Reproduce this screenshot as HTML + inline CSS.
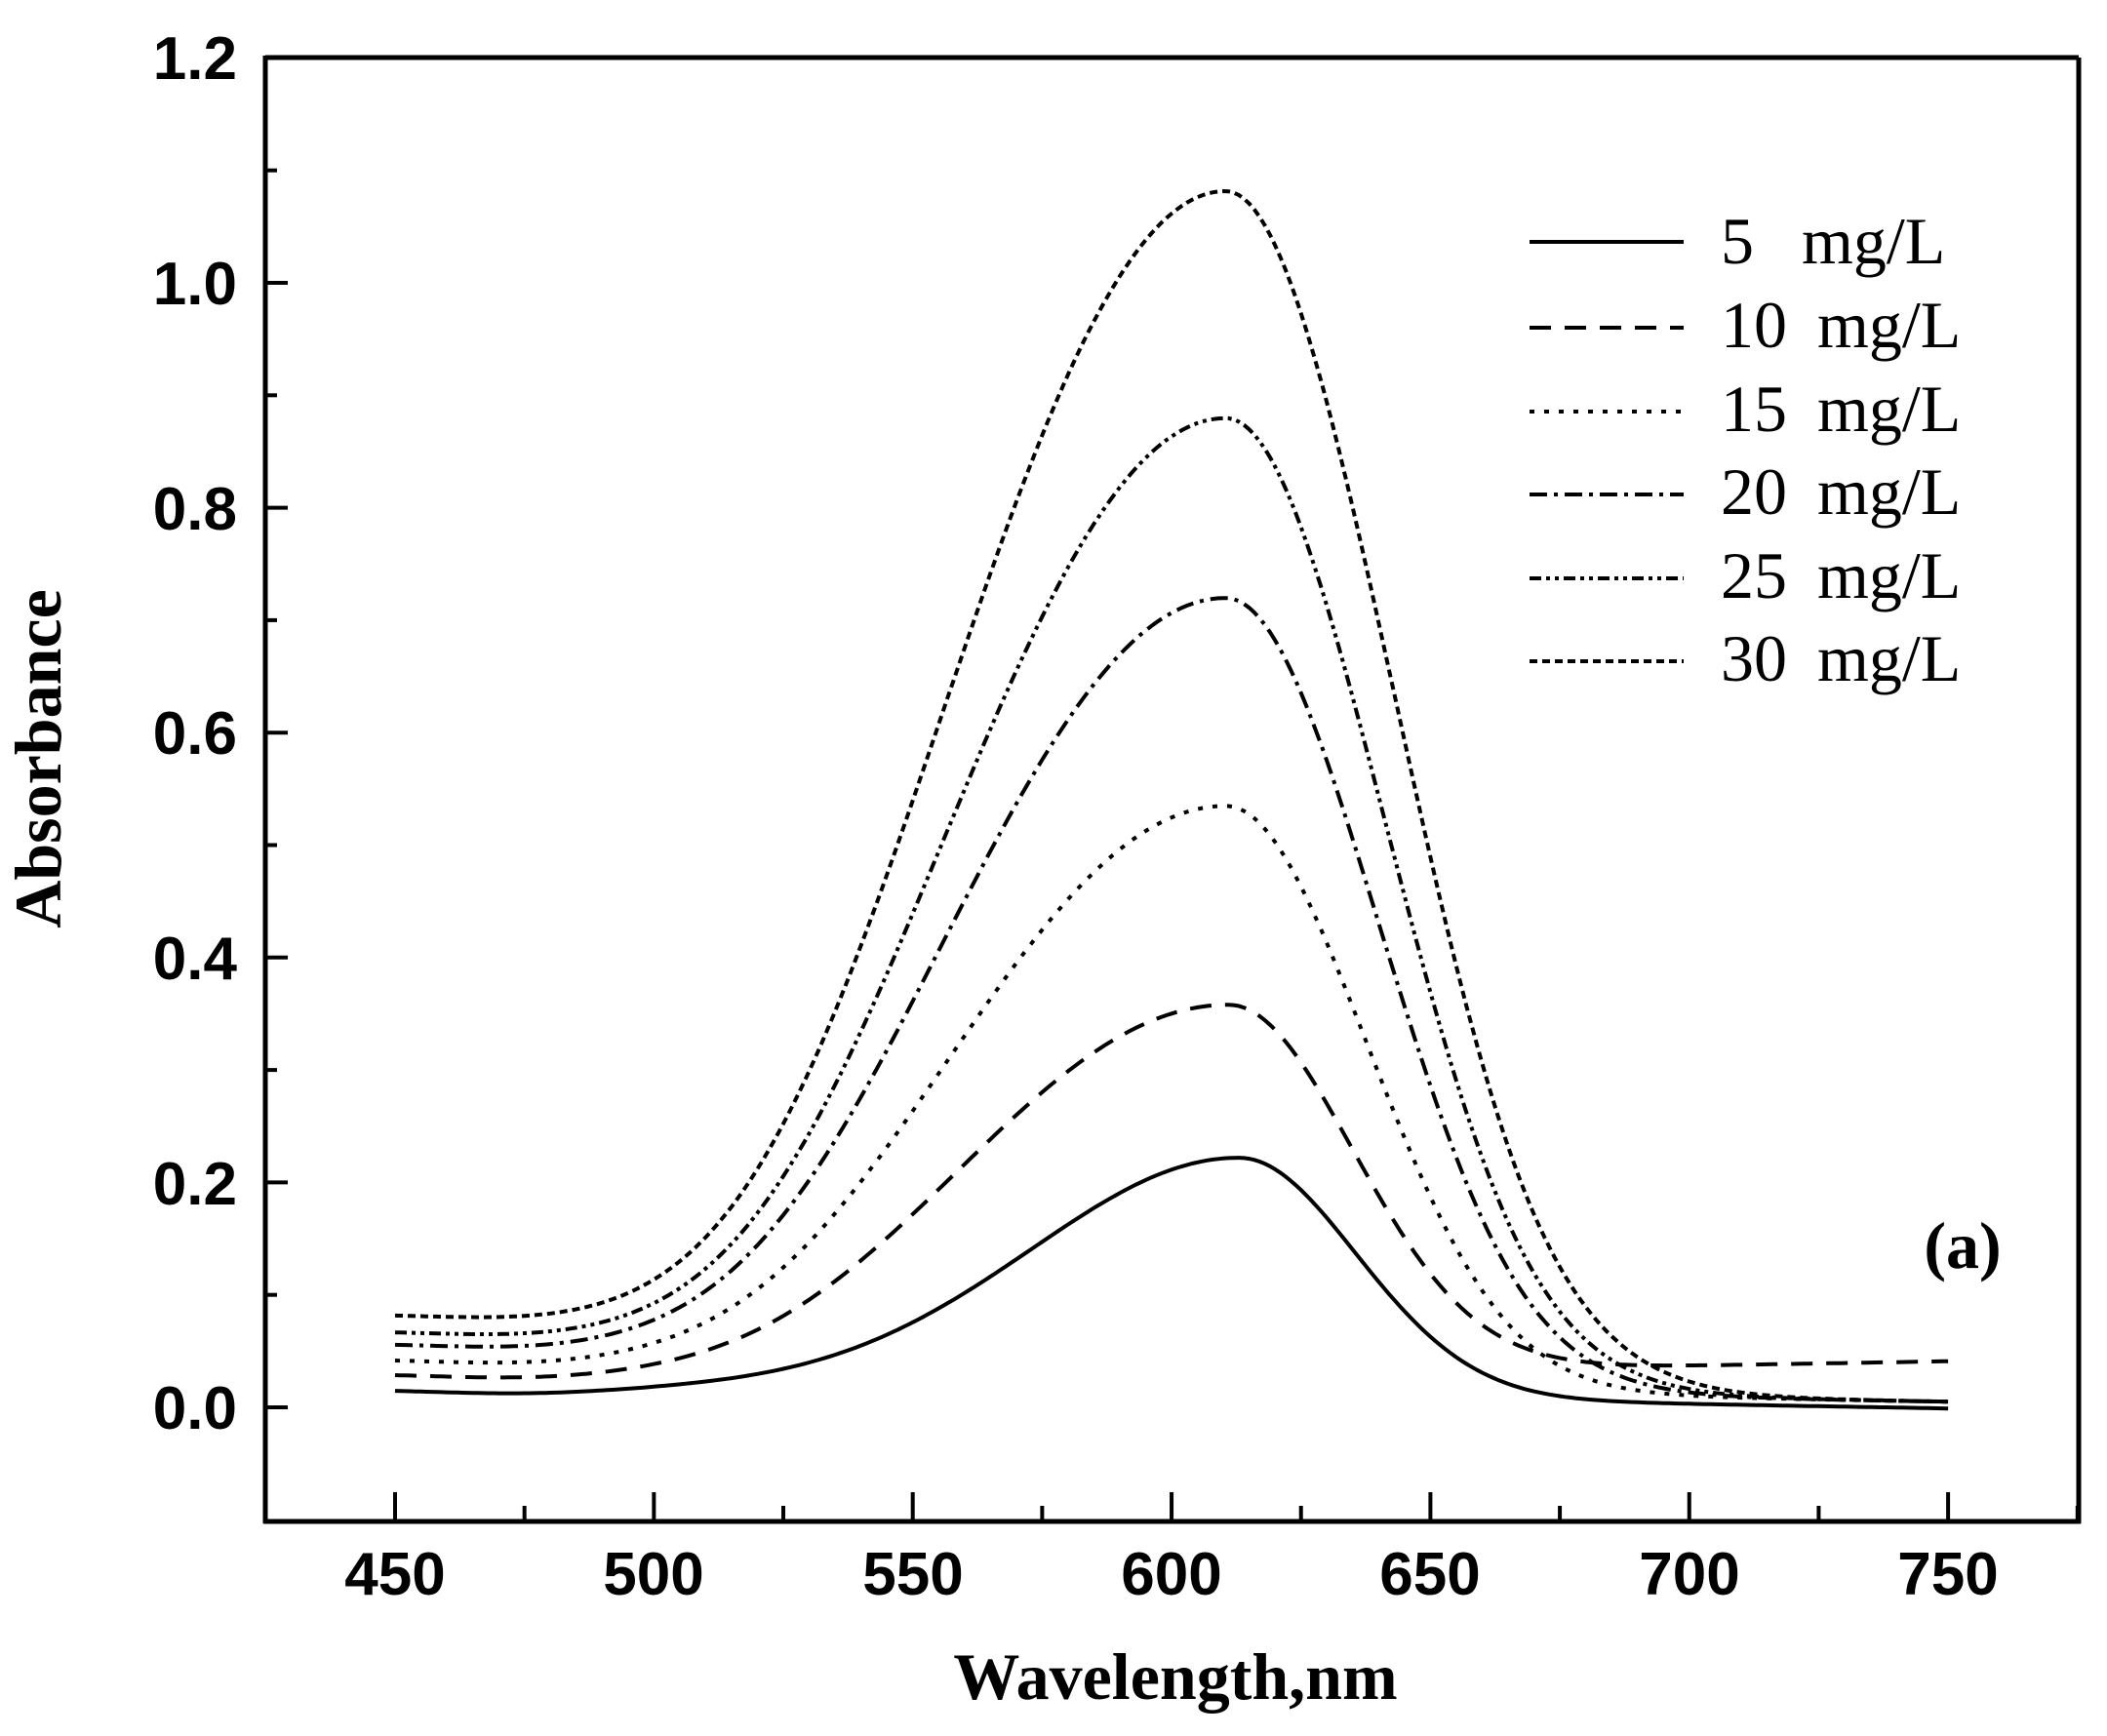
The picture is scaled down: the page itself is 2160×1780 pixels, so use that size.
<!DOCTYPE html>
<html><head><meta charset="utf-8"><style>
html,body{margin:0;padding:0;background:#fff}
svg{display:block}
.tl{font-family:"Liberation Sans",Arial,sans-serif;font-weight:bold;font-size:62px}
.lg{font-family:"Liberation Serif","Times New Roman",serif;font-size:68px}
.ax{font-family:"Liberation Serif","Times New Roman",serif;font-weight:bold;font-size:68px}
</style></head><body>
<svg id="s" width="2160" height="1780" viewBox="0 0 2160 1780" xmlns="http://www.w3.org/2000/svg">
<rect width="2160" height="1780" fill="#fff"/>
<g stroke="#000" stroke-width="5" fill="none">
<line x1="272" y1="59" x2="2131" y2="59"/>
<line x1="272" y1="57" x2="272" y2="1562"/>
<line x1="2131" y1="59" x2="2131" y2="1562"/>
<line x1="270" y1="1560" x2="2133" y2="1560"/>
</g>
<g id="ticks" stroke="#000" stroke-width="4"></g>
<g class="tl" text-anchor="end">
<text x="243" y="81">1.2</text>
<text x="243" y="312">1.0</text>
<text x="243" y="543">0.8</text>
<text x="243" y="773">0.6</text>
<text x="243" y="1004">0.4</text>
<text x="243" y="1235">0.2</text>
<text x="243" y="1465">0.0</text>
</g>
<g class="tl" text-anchor="middle">
<text x="405" y="1635">450</text>
<text x="670" y="1635">500</text>
<text x="936" y="1635">550</text>
<text x="1201" y="1635">600</text>
<text x="1466" y="1635">650</text>
<text x="1732" y="1635">700</text>
<text x="1997" y="1635">750</text>
</g>
<text class="ax" x="1205" y="1742" text-anchor="middle">Wavelength,nm</text>
<text class="ax" x="62" y="778" text-anchor="middle" transform="rotate(-90 62 778)">Absorbance</text>
<text class="ax" x="2012" y="1300" text-anchor="middle">(a)</text>
<g id="curves" fill="none" stroke="#000" stroke-width="4"></g>
<g id="legend" stroke="#000" stroke-width="4"></g>
<g class="lg">
<text x="1764" y="270">5</text><text x="1847" y="270">mg/L</text>
<text x="1764" y="356">10</text><text x="1863" y="356">mg/L</text>
<text x="1764" y="442">15</text><text x="1863" y="442">mg/L</text>
<text x="1764" y="527">20</text><text x="1863" y="527">mg/L</text>
<text x="1764" y="613">25</text><text x="1863" y="613">mg/L</text>
<text x="1764" y="698">30</text><text x="1863" y="698">mg/L</text>
</g>
</svg>
<script>
function X(l){return 405+(l-450)*5.307;}
function Y(v){return 1443-v*1153;}
var t=document.getElementById("ticks"),h="";
for(var i=0;i<12;i++){var y=Y(i*0.1);var L=(i%2==0)?23:12;h+='<line x1="272" y1="'+y+'" x2="'+(272+L)+'" y2="'+y+'"/>';}
h+='<line x1="272" y1="59" x2="295" y2="59"/>';
for(var l=450;l<=775;l+=25){var x=X(l);var L=(l%50==0)?30:16;h+='<line x1="'+x+'" y1="1560" x2="'+x+'" y2="'+(1560-L)+'"/>';}
t.innerHTML=h;
var S=[
 {pk:0.222,c:613,sl:40,k:1e9,sr:22,a:0.016,bR:0.003,d:""},
 {pk:0.358,c:611,sl:50,k:110,sr:24,a:0.03,bR:0.037,d:"22 14"},
 {pk:0.535,c:610.5,sl:51,k:108,sr:26,a:0.043,bR:0.009,d:"5 10"},
 {pk:0.72,c:610.5,sl:52,k:107,sr:28,a:0.057,bR:0.009,d:"18 7 4 7"},
 {pk:0.88,c:610.5,sl:52,k:106,sr:29,a:0.068,bR:0.009,d:"12 5 4 5 4 5"},
 {pk:1.082,c:610.5,sl:52,k:106,sr:30.5,a:0.083,bR:0.009,d:"8 5"}
];
var g=document.getElementById("curves"),out="";
S.forEach(function(s){
 var P=s.pk-s.a;
 var bL=s.a;
 var p="";
 for(var l=450;l<=750;l+=1){
  var w=1/(1+Math.exp((l-655)/9));
  var bRl=s.bR+(s.bR>0.03?0.004*(l-700)/50:0)-(s.bR<0.01?0.004*(l-700)/50:0);
  var b=bRl+(bL-bRl)*w - 0.004*Math.exp(-Math.pow(l-475,2)/600);
  var d=l-s.c, f;
  if(d<0){f=Math.exp(-d*d/(2*s.sl*s.sl)-Math.pow(d/s.k,4));}else{f=Math.exp(-d*d/(2*s.sr*s.sr));}
  var v=b+P*f;
  p+=(l==450?"M":"L")+X(l).toFixed(1)+","+Y(v).toFixed(1);
 }
 out+='<path d="'+p+'"'+(s.d?' stroke-dasharray="'+s.d+'"':'')+'/>';
});
g.innerHTML=out;
var lg=document.getElementById("legend"),lh="";
var ys=[248,336,422,507,593,678];
S.forEach(function(s,i){lh+='<line x1="1568" y1="'+ys[i]+'" x2="1726" y2="'+ys[i]+'"'+(s.d?' stroke-dasharray="'+s.d+'"':'')+'/>';});
lg.innerHTML=lh;
</script>
</body></html>
